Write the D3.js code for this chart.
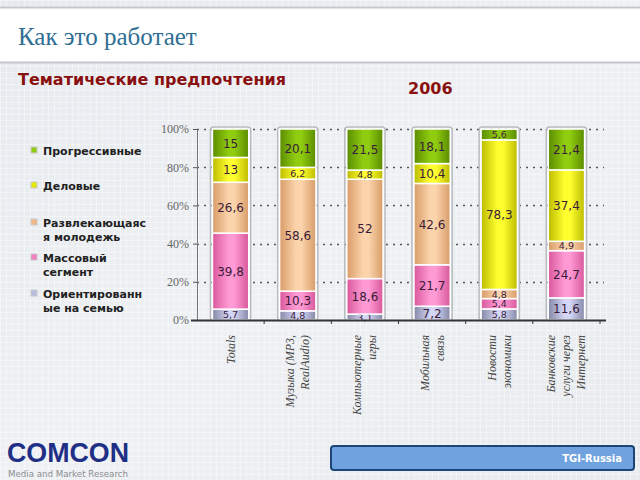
<!DOCTYPE html>
<html><head><meta charset="utf-8">
<script src="https://cdn.jsdelivr.net/npm/d3@7"></script>
<style>body{margin:0;padding:0;background:#fff;}svg{display:block;}</style>
</head><body>
<svg id="c" width="640" height="480"></svg>
<script>
const categories = [["Totals"],["Музыка (MP3,","RealAudio)"],["Компьютерные","игры"],["Мобильная","связь"],["Новости","экономики"],["Банковские","услуги через","Интернет"]];
const seriesNames = ["Ориентированные на семью","Массовый сегмент","Развлекающаяся молодежь","Деловые","Прогрессивные"];
const family      = [5.7, 4.8, 3.1, 7.2, 5.8, 11.6];
const mass        = [39.8, 10.3, 18.6, 21.7, 5.4, 24.7];
const youth       = [26.6, 58.6, 52, 42.6, 4.8, 4.9];
const business    = [13, 6.2, 4.8, 10.4, 78.3, 37.4];
const progressive = [15, 20.1, 21.5, 18.1, 5.6, 21.4];
const seriesValues = [family, mass, youth, business, progressive];
const labelsText = [["Прогрессивные"],["Деловые"],["Развлекающаяс","я молодежь"],["Массовый","сегмент"],["Ориентированн","ые на семью"]];
const yTicks = [0,20,40,60,80,100];

const svg = d3.select("#c");
const defs = svg.append("defs");
const bg = defs.append("linearGradient").attr("id","bg").attr("x1",0).attr("y1",0).attr("x2",1).attr("y2",1);
bg.append("stop").attr("offset",0).attr("stop-color","#e6eaee");
bg.append("stop").attr("offset",0.5).attr("stop-color","#eef0f3");
bg.append("stop").attr("offset",1).attr("stop-color","#e8ebee");
svg.append("rect").attr("width",640).attr("height",480).attr("fill","url(#bg)");
const tex = svg.append("g").attr("stroke","#ffffff").attr("stroke-opacity",0.35).attr("stroke-width",1);
d3.range(0,640,6).forEach(x=>tex.append("line").attr("x1",x+0.5).attr("x2",x+0.5).attr("y1",0).attr("y2",480));
d3.range(0,480,6).forEach(y=>tex.append("line").attr("y1",y+0.5).attr("y2",y+0.5).attr("x1",0).attr("x2",640));

svg.append("rect").attr("x",0).attr("y",8).attr("width",640).attr("height",54).attr("fill","#ffffff");
svg.append("line").attr("x1",0).attr("x2",640).attr("y1",7.5).attr("y2",7.5).attr("stroke","#c4c8cc").attr("stroke-width",2);
svg.append("line").attr("x1",0).attr("x2",640).attr("y1",62.5).attr("y2",62.5).attr("stroke","#c4c8cc").attr("stroke-width",2);
svg.append("text").attr("x",18).attr("y",45).attr("font-family","Liberation Serif, serif").attr("font-size",25).attr("fill","#2f6e94").text("Как это работает");
svg.append("text").attr("x",18).attr("y",85).attr("font-family","DejaVu Sans, sans-serif").attr("font-weight","bold").attr("font-size",16).attr("fill","#8a1010").text("Тематические предпочтения");
svg.append("text").attr("x",408).attr("y",94).attr("font-family","DejaVu Sans, sans-serif").attr("font-weight","bold").attr("font-size",16).attr("fill","#8a1010").text("2006");

const x0 = 197, x1 = 600, yTop = 129, yBot = 320;
const x = d3.scaleBand().domain(d3.range(categories.length)).range([x0,x1]).paddingInner(0.46).paddingOuter(0.23);
const y = d3.scaleLinear().domain([0,100]).range([yBot,yTop]);

svg.append("g").selectAll("line").data(yTicks.filter(d=>d>0)).join("line")
  .attr("x1",x0).attr("x2",x1+4).attr("y1",d=>Math.round(y(d))+0.5).attr("y2",d=>Math.round(y(d))+0.5)
  .attr("stroke","#555").attr("stroke-width",1.5).attr("stroke-dasharray","2,5");

const yAxis = d3.axisLeft(y).tickValues(yTicks).tickFormat(d=>d+"%").tickSize(4);
const ya = svg.append("g").attr("transform",`translate(${x0},0)`).call(yAxis);
ya.select(".domain").attr("stroke","#777");
ya.selectAll(".tick line").attr("stroke","#555");
ya.selectAll("text").attr("font-family","Liberation Serif, serif").attr("font-size",12).attr("fill","#666").attr("x",-8);

const cols = [["#8688a8","#d4d6f6"],["#d8589c","#ff9ad4"],["#d89c68","#fcd4ac"],["#bcbc00","#ffff30"],["#5a8c00","#90cc10"]];
cols.forEach((c,i)=>{
  const g = defs.append("linearGradient").attr("id","g"+i).attr("x1",0).attr("x2",1).attr("y1",0).attr("y2",0);
  g.append("stop").attr("offset",0).attr("stop-color",c[0]);
  g.append("stop").attr("offset",0.45).attr("stop-color",c[1]);
  g.append("stop").attr("offset",0.6).attr("stop-color",c[1]);
  g.append("stop").attr("offset",1).attr("stop-color",c[0]);
});

const rows = categories.map((c,i)=>{const o={i}; seriesValues.forEach((s,k)=>o["s"+k]=s[i]); return o;});
const stack = d3.stack().keys(seriesValues.map((s,k)=>"s"+k))(rows);

svg.append("g").selectAll("rect").data(rows).join("rect")
  .attr("x",d=>x(d.i)-2).attr("width",x.bandwidth()+4)
  .attr("y",y(100)-2).attr("height",y(0)-y(100)+2).attr("rx",3)
  .attr("fill","none").attr("stroke","#b8bcc0").attr("stroke-width",1.5);

const layers = svg.append("g").selectAll("g").data(stack).join("g").attr("fill",(d,i)=>`url(#g${i})`);
layers.selectAll("rect").data(d=>d).join("rect")
  .attr("x",d=>x(d.data.i)).attr("width",x.bandwidth())
  .attr("y",d=>y(Math.min(d[1],100))).attr("height",d=>Math.max(0,y(d[0])-y(Math.min(d[1],100))))
  .attr("stroke","#ffffff").attr("stroke-width",1.5);

const fmt = v => String(v).replace(".",",");
const segH = d => y(d[0])-y(Math.min(d[1],100));
layers.selectAll("text").data(d=>d).join("text")
  .attr("x",d=>x(d.data.i)+x.bandwidth()/2)
  .attr("y",d=>(y(d[0])+y(Math.min(d[1],100)))/2+(segH(d)<12?3.5:4.5))
  .attr("text-anchor","middle").attr("font-family","DejaVu Sans, sans-serif")
  .attr("font-size",d=>segH(d)<12?9.5:12)
  .attr("fill","#3a1c3a")
  .text(d=>fmt(+(d[1]-d[0]).toFixed(1)));

const xa = svg.append("g").attr("transform",`translate(0,${yBot})`);
xa.append("line").attr("x1",x0-6).attr("x2",x1+6).attr("y1",0.5).attr("y2",0.5).attr("stroke","#333").attr("stroke-width",2);
const step = x.step();
xa.selectAll("line.t").data(d3.range(categories.length)).join("line").attr("class","t")
  .attr("x1",d=>x(d)+x.bandwidth()/2+step/2).attr("x2",d=>x(d)+x.bandwidth()/2+step/2)
  .attr("y1",0).attr("y2",4).attr("stroke","#333");

categories.forEach((lines,i)=>{
  const cx = x(i)+x.bandwidth()/2;
  const n = lines.length;
  lines.forEach((t,k)=>{
    const lx = cx + (k-(n-1)/2)*15 + 4;
    svg.append("text").attr("transform",`translate(${lx},335) rotate(-90)`)
      .attr("text-anchor","end").attr("font-family","Liberation Serif, serif").attr("font-style","italic")
      .attr("font-size",12).attr("fill","#444").text(t);
  });
});

const legY = [[155],[190],[227,241],[262,276],[298,312]];
const legCols = ["#90cc10","#e8e800","#f0b888","#f080c0","#b8bce0"];
labelsText.forEach((lines,i)=>{
  svg.append("rect").attr("x",31).attr("y",legY[i][0]-8).attr("width",6).attr("height",6)
    .attr("fill",legCols[i]).attr("stroke","#c8c8c8").attr("stroke-width",1);
  lines.forEach((t,k)=>{
    svg.append("text").attr("x",43).attr("y",legY[i][k]).attr("font-family","DejaVu Sans, sans-serif")
      .attr("font-weight","bold").attr("font-size",11).attr("fill","#222").text(t);
  });
});

svg.append("text").attr("x",7).attr("y",462).attr("font-family","Liberation Sans Narrow, Liberation Sans, sans-serif").attr("font-weight","bold")
  .attr("font-size",27).attr("fill","#1f2f86").attr("textLength",122).attr("lengthAdjust","spacingAndGlyphs").text("COMCON");
svg.append("text").attr("x",8).attr("y",477).attr("font-family","DejaVu Sans, sans-serif").attr("font-size",9).attr("fill","#8a8e92")
  .attr("textLength",120).attr("lengthAdjust","spacingAndGlyphs").text("Media and Market Research");
svg.append("rect").attr("x",331).attr("y",446).attr("width",303).attr("height",24).attr("rx",3)
  .attr("fill","#6fa2de").attr("stroke","#1c4678").attr("stroke-width",2);
svg.append("text").attr("x",622).attr("y",462).attr("text-anchor","end").attr("font-family","DejaVu Sans, sans-serif")
  .attr("font-weight","bold").attr("font-size",10).attr("fill","#ffffff").text("TGI-Russia");
</script>
</body></html>
